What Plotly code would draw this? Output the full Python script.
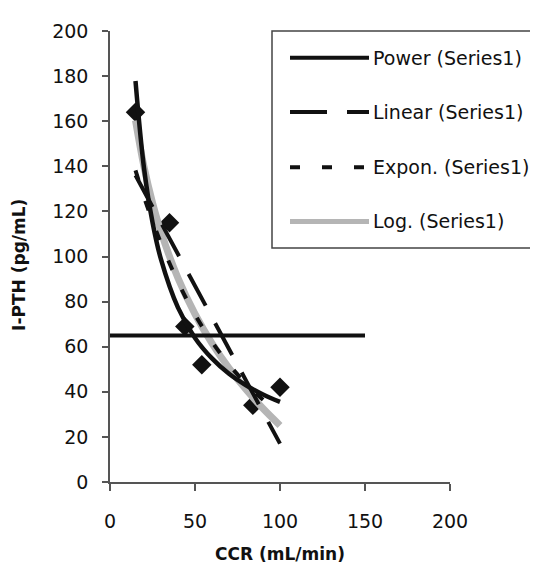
import plotly.graph_objects as go

ccr = [15, 35, 44, 54, 84, 100]
ipth = [164, 115, 69, 52, 34, 42]

# Trendline values
trend_x = [15, 20, 25, 30, 40, 50, 60, 70, 80, 90, 100]
power_y = [177.8, 139.2, 115.2, 98.7, 77.3, 63.9, 54.8, 48.0, 42.9, 38.8, 35.5]
expon_y = [138.2, 126.4, 115.7, 105.9, 88.7, 74.2, 62.2, 52.1, 43.6, 36.5, 30.6]
log_y = [160.3, 139.8, 123.9, 110.9, 90.4, 74.5, 61.5, 50.5, 41.0, 32.6, 25.1]
linear_x = [15, 100]
linear_y = [136.0, 17.0]

# Reference level line
ref_x = [0, 150]
ref_y = [65, 65]

legend_names = ["Power (Series1)", "Linear (Series1)", "Expon. (Series1)", "Log. (Series1)"]

FONT = "DejaVu Sans, Liberation Sans, Arial"
BLACK = "#111111"
GRAY = "#b5b5b5"

fig = go.Figure()

fig.add_trace(go.Scatter(x=ccr, y=ipth, mode="markers",
                         marker=dict(symbol="diamond", size=15, color=BLACK),
                         showlegend=False))
fig.add_trace(go.Scatter(x=trend_x, y=log_y, mode="lines", line_shape="spline",
                         line=dict(color=GRAY, width=7), showlegend=False))
fig.add_trace(go.Scatter(x=trend_x, y=power_y, mode="lines", line_shape="spline",
                         line=dict(color=BLACK, width=4.5), showlegend=False))
fig.add_trace(go.Scatter(x=trend_x, y=expon_y, mode="lines", line_shape="spline",
                         line=dict(color=BLACK, width=4, dash="10px,22px"), showlegend=False))
fig.add_trace(go.Scatter(x=linear_x, y=linear_y, mode="lines",
                         line=dict(color=BLACK, width=4, dash="36px,20px"), showlegend=False))
fig.add_trace(go.Scatter(x=ref_x, y=ref_y, mode="lines",
                         line=dict(color=BLACK, width=4), showlegend=False))

# Page has an 8px body margin; positions below are window pixels of the reference
OFF = 8

def px_x(p):
    return (p - 110) / 340.0

def px_y(p):
    return (482 - p) / 457.0

shapes = [dict(type="rect", xref="paper", yref="paper",
               x0=px_x(272), x1=px_x(548), y0=px_y(245), y1=px_y(25),
               line=dict(color="#444444", width=1.5), fillcolor="white", layer="below")]
styles = [dict(color=BLACK, width=4),
          dict(color=BLACK, width=4, dash="37px,20px"),
          dict(color=BLACK, width=4, dash="10px,22px"),
          dict(color=GRAY, width=5)]
rows = [52, 107, 163, 218]
annotations = []
for name, st, r in zip(legend_names, styles, rows):
    shapes.append(dict(type="line", xref="paper", yref="paper",
                       x0=px_x(290), x1=px_x(369), y0=px_y(r), y1=px_y(r), line=st))
    annotations.append(dict(text=name, xref="paper", yref="paper", x=px_x(371), y=px_y(r),
                            xanchor="left", yanchor="middle", showarrow=False,
                            font=dict(family=FONT, size=19, color=BLACK)))

annotations.append(dict(text="<b>CCR (mL/min)</b>", xref="paper", yref="paper",
                        x=px_x(280), y=px_y(555), xanchor="center", yanchor="middle",
                        showarrow=False, font=dict(family=FONT, size=17, color=BLACK)))
annotations.append(dict(text="<b>I-PTH (pg/mL)</b>", xref="paper", yref="paper",
                        x=px_x(19), y=px_y(262), xanchor="center", yanchor="middle",
                        textangle=-90, showarrow=False, borderpad=0,
                        font=dict(family=FONT, size=17, color=BLACK)))

fig.update_layout(
    width=538 - OFF, height=565 - OFF,
    margin=dict(l=110 - OFF, r=88, t=25 - OFF, b=83),
    paper_bgcolor="white", plot_bgcolor="white",
    font=dict(family=FONT, size=19, color=BLACK),
    shapes=shapes, annotations=annotations,
    showlegend=False,
)
fig.update_xaxes(range=[0, 200], dtick=50, tick0=0, showgrid=False, zeroline=False,
                 showline=True, linecolor="#555555", linewidth=1.5,
                 ticks="outside", ticklen=7, tickcolor="#555555", tickwidth=1.5,
                 ticklabelstandoff=14, tickfont=dict(family=FONT, size=19, color=BLACK))
fig.update_yaxes(range=[0, 200], dtick=20, tick0=0, showgrid=False, zeroline=False,
                 showline=True, linecolor="#555555", linewidth=1.5,
                 ticks="outside", ticklen=6, tickcolor="#555555", tickwidth=1.5,
                 ticklabelstandoff=10, tickfont=dict(family=FONT, size=19, color=BLACK))

fig.write_html("out.html")
